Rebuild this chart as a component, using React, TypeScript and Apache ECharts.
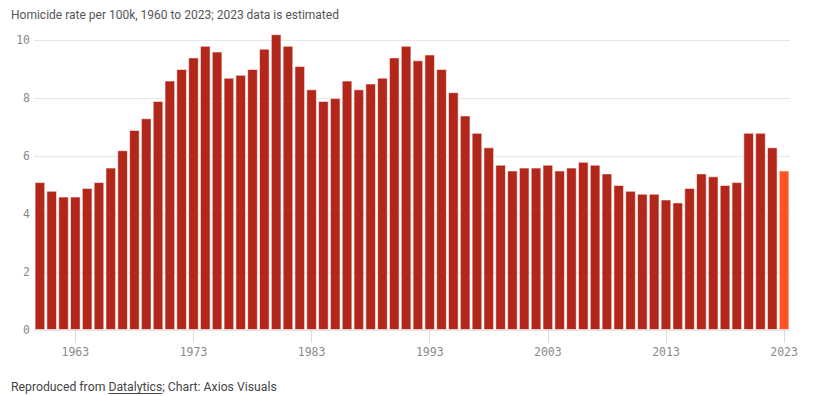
import React, { useEffect, useRef } from "react";
import * as echarts from "echarts";

const years: string[] = [];
for (let y = 1960; y <= 2023; y++) years.push(String(y));

const rates: number[] = [
  5.1, 4.8, 4.6, 4.6, 4.9, 5.1, 5.6, 6.2, 6.9, 7.3,
  7.9, 8.6, 9.0, 9.4, 9.8, 9.6, 8.7, 8.8, 9.0, 9.7,
  10.2, 9.8, 9.1, 8.3, 7.9, 8.0, 8.6, 8.3, 8.5, 8.7,
  9.4, 9.8, 9.3, 9.5, 9.0, 8.2, 7.4, 6.8, 6.3, 5.7,
  5.5, 5.6, 5.6, 5.7, 5.5, 5.6, 5.8, 5.7, 5.4, 5.0,
  4.8, 4.7, 4.7, 4.5, 4.4, 4.9, 5.4, 5.3, 5.0, 5.1,
  6.8, 6.8, 6.3, 5.5,
];

const estimatedYear = "2023";
const yTicks = [0, 2, 4, 6, 8, 10];

const titleText = "Homicide rate per 100k, 1960 to 2023; 2023 data is estimated";
const footerPrefix = "Reproduced from ";
const footerLink = "Datalytics";
const footerSuffix = "; Chart: Axios Visuals";

const BAR = "#B3271A";
const BAR_EST = "#FF5426";
const FONT = "Roboto";
const MONO = "DejaVu Sans Mono";

function measure(text: string, font: string): number {
  const c = document.createElement("canvas");
  const ctx = c.getContext("2d");
  if (!ctx) return text.length * 6;
  ctx.font = font;
  return ctx.measureText(text).width;
}

function fitSize(text: string, family: string, weight: number, target: number): number {
  const w = measure(text, `${weight} 20px ${family}`);
  return w > 0 ? (20 * target) / w : 12;
}

export default function App() {
  const ref = useRef<HTMLDivElement>(null);
  useEffect(() => {
    if (!ref.current) return;
    document.body.style.margin = "0";
    const chart = echarts.init(ref.current, undefined, { renderer: "svg" });
    const footFull = footerPrefix + footerLink + footerSuffix;
    const titleSize = Math.min(13, fitSize(titleText, FONT, 400, 328));
    const footSize = Math.min(13, fitSize(footFull, FONT, 400, 266));
    const footFont = `400 ${footSize}px ${FONT}`;
    const prefW = measure(footerPrefix, footFont);
    const linkW = measure(footerLink, footFont);
    const fx = 11;
    const fy = 387;
    chart.setOption({
      animation: false,
      backgroundColor: "#ffffff",
      grid: { left: 34, right: 24, top: 40, bottom: 66, containLabel: false },
      xAxis: {
        type: "category",
        data: years,
        axisLine: { show: false },
        axisTick: {
          show: true,
          alignWithLabel: true,
          length: 13,
          interval: (i: number) => (i - 3) % 10 === 0,
          lineStyle: { color: "#dcdcdc" },
        },
        axisLabel: {
          interval: (i: number) => (i - 3) % 10 === 0,
          color: "#8a8a8a",
          fontFamily: MONO,
          fontSize: 11.5,
          margin: 16,
        },
      },
      yAxis: {
        type: "value",
        min: 0,
        max: 10,
        interval: 2,
        axisLine: { show: false },
        axisTick: { show: false },
        splitLine: { lineStyle: { color: "#e6e6e6", width: 1 } },
        axisLabel: {
          color: "#8a8a8a",
          fontFamily: MONO,
          fontSize: 11.5,
          margin: 4,
          formatter: (v: number) => (yTicks.includes(v) ? String(v) : ""),
        },
      },
      series: [
        {
          type: "bar",
          clip: false,
          data: rates.map((v, i) => ({
            value: v,
            itemStyle: { color: years[i] === estimatedYear ? BAR_EST : BAR },
          })),
          barCategoryGap: "10%",
          itemStyle: { borderColor: "rgba(255,255,255,0.55)", borderWidth: 1 },
          emphasis: { disabled: true },
        },
      ],
      graphic: [
        {
          type: "text",
          x: 11,
          y: 15,
          style: {
            text: titleText,
            fill: "#555",
            font: `400 ${titleSize}px ${FONT}`,
            textVerticalAlign: "middle",
          },
        },
        {
          type: "text",
          x: fx,
          y: fy,
          style: {
            text: footFull,
            fill: "#444",
            font: footFont,
            textVerticalAlign: "middle",
          },
        },
        {
          type: "line",
          shape: { x1: fx + prefW, y1: fy + 6.5, x2: fx + prefW + linkW, y2: fy + 6.5 },
          style: { stroke: "#444", lineWidth: 1 },
        },
      ],
    });
    return () => chart.dispose();
  }, []);
  return (
    <div
      ref={ref}
      style={{ position: "absolute", left: 0, top: 0, width: 814, height: 396 }}
    />
  );
}
